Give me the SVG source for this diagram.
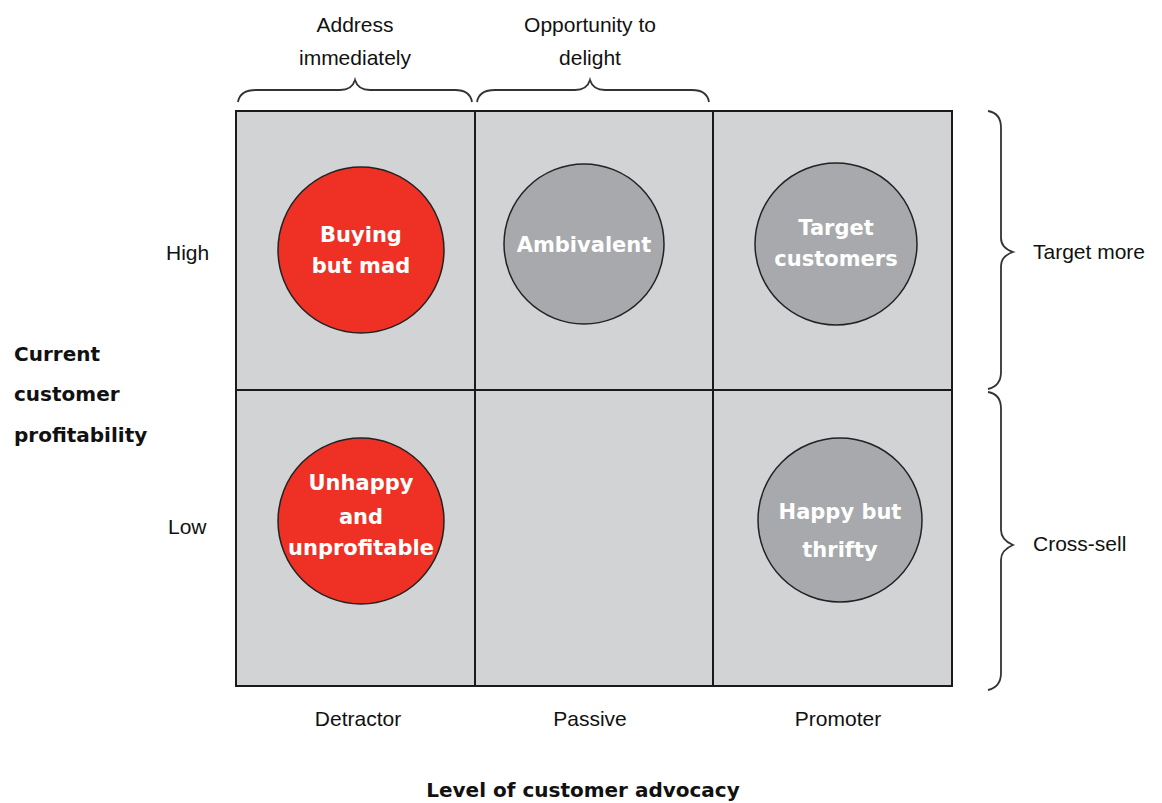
<svg xmlns="http://www.w3.org/2000/svg" width="1162" height="803" viewBox="0 0 1162 803">
<style>
.cell{fill:#d1d3d5;stroke:#1a1a1a;stroke-width:2}
.red{fill:#ee3124;stroke:#222;stroke-width:1.5}
.gray{fill:#a7a9ac;stroke:#222;stroke-width:1.5}
.ct{font-family:"DejaVu Sans",sans-serif;font-weight:bold;font-size:21px;fill:#fff;text-anchor:middle}
.lb{font-family:"Liberation Sans",sans-serif;font-size:21px;fill:#111}
.mid{text-anchor:middle}
.bl{font-family:"DejaVu Sans",sans-serif;font-weight:bold;font-size:20px;fill:#111}
.br{fill:none;stroke:#333;stroke-width:1.8}
</style>
<rect width="1162" height="803" fill="#fff"/>
<g id="grid">
<rect class="cell" x="236" y="111" width="239" height="279"/>
<rect class="cell" x="475" y="111" width="238" height="279"/>
<rect class="cell" x="713" y="111" width="239" height="279"/>
<rect class="cell" x="236" y="390" width="239" height="296"/>
<rect class="cell" x="475" y="390" width="238" height="296"/>
<rect class="cell" x="713" y="390" width="239" height="296"/>
</g>
<g id="buying">
<circle class="red" cx="361" cy="250" r="83"/>
<text class="ct" x="361" y="242">Buying</text>
<text class="ct" x="361" y="273">but mad</text>
</g>
<g id="ambivalent">
<circle class="gray" cx="584" cy="244" r="80"/>
<text class="ct" x="584" y="252">Ambivalent</text>
</g>
<g id="target">
<circle class="gray" cx="836" cy="244" r="81"/>
<text class="ct" x="836" y="235">Target</text>
<text class="ct" x="836" y="266">customers</text>
</g>
<g id="unhappy">
<circle class="red" cx="361" cy="521" r="83"/>
<text class="ct" x="361" y="490">Unhappy</text>
<text class="ct" x="361" y="524">and</text>
<text class="ct" x="361" y="555">unprofitable</text>
</g>
<g id="happy">
<circle class="gray" cx="840" cy="520" r="82"/>
<text class="ct" x="840" y="519">Happy but</text>
<text class="ct" x="840" y="557">thrifty</text>
</g>
<g id="braces">
<path class="br" d="M238 102 Q240 90 256 90 L340 90 Q352 90 355 80 Q358 90 370 90 L455 90 Q470 90 472 102"/>
<path class="br" d="M477 102 Q479 90 495 90 L575 90 Q587 90 590 80 Q593 90 605 90 L692 90 Q707 90 709 102"/>
<path class="br" d="M988 111 Q1001 113 1001 128 L1001 238 Q1001 248 1013 252 Q1001 256 1001 266 L1001 372 Q1001 386 988 389"/>
<path class="br" d="M988 392 Q1001 394 1001 409 L1001 530 Q1001 540 1013 545 Q1001 550 1001 560 L1001 673 Q1001 687 988 690"/>
</g>
<g id="labels">
<text class="lb mid" x="355" y="32">Address</text>
<text class="lb mid" x="355" y="65">immediately</text>
<text class="lb mid" x="590" y="32">Opportunity to</text>
<text class="lb mid" x="590" y="65">delight</text>
<text class="lb" x="166" y="260">High</text>
<text class="lb" x="168" y="534">Low</text>
<text class="lb" x="1033" y="259">Target more</text>
<text class="lb" x="1033" y="551">Cross-sell</text>
<text class="lb mid" x="358" y="726">Detractor</text>
<text class="lb mid" x="590" y="726">Passive</text>
<text class="lb mid" x="838" y="726">Promoter</text>
<text class="bl" x="14" y="361">Current</text>
<text class="bl" x="14" y="401">customer</text>
<text class="bl" x="14" y="442">profitability</text>
<text class="bl mid" x="583" y="797">Level of customer advocacy</text>
</g>
</svg>
